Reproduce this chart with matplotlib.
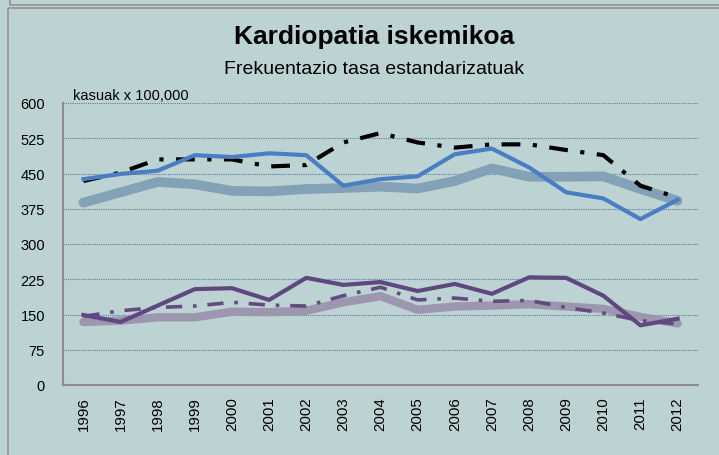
import numpy as np
import matplotlib
matplotlib.use("Agg")
import matplotlib.pyplot as plt
from matplotlib.lines import Line2D

years = ["1996", "1997", "1998", "1999", "2000", "2001", "2002", "2003", "2004",
         "2005", "2006", "2007", "2008", "2009", "2010", "2011", "2012"]

# upper group
blue_solid = [438, 449, 456, 489, 485, 493, 489, 424, 438, 444, 491, 503, 463, 410, 397, 353, 394]
black_dashdot = [434, 452, 480, 480, 480, 465, 468, 516, 536, 516, 505, 512, 512, 500, 489, 424, 399]
grayblue_thick = [388, 410, 432, 427, 413, 412, 417, 419, 422, 418, 434, 461, 443, 443, 444, 417, 392]

# lower group
purple_solid = [149, 134, 169, 204, 206, 181, 228, 213, 219, 200, 215, 194, 229, 228, 190, 127, 141]
purple_dashdot = [146, 158, 165, 168, 176, 170, 168, 190, 208, 181, 185, 178, 180, 165, 153, 137, 130]
lavender_thick = [134, 137, 144, 144, 156, 155, 158, 176, 189, 160, 167, 169, 172, 167, 162, 145, 131]

yticks = [0, 75, 150, 225, 300, 375, 450, 525, 600]

BG = "#BDD3D3"
FONT = ["Liberation Sans", "DejaVu Sans"]

W, H = 719, 456
fig = plt.figure(figsize=(W / 100, H / 100), dpi=100, facecolor=BG)
ax = fig.add_axes([63 / W, 1 - 386 / H, (698 - 63) / W, (386 - 104) / H], facecolor=BG)

x = np.arange(len(years))
dashdot = (0, (4.5, 3, 1, 3))

ax.plot(x, grayblue_thick, color="#84A2B7", lw=7, solid_capstyle="round", zorder=2)
ax.plot(x, black_dashdot, color="black", lw=3, linestyle=dashdot, zorder=3)
ax.plot(x, blue_solid, color="#4A7EC3", lw=3, zorder=4)

ax.plot(x, lavender_thick, color="#9C96AF", lw=6, solid_capstyle="round", zorder=2)
ax.plot(x, purple_dashdot, color="#634B82", lw=2.6, linestyle=dashdot, zorder=3)
ax.plot(x, purple_solid, color="#5F4880", lw=3, zorder=4)

ax.set_xlim(-0.55, len(years) - 0.45)
ax.set_ylim(0, 600)
ax.set_yticks(yticks)
ax.set_yticklabels([str(t) for t in yticks], family=FONT, fontsize=10.5)
ax.set_xticks(x)
ax.set_xticklabels(years, rotation=90, family=FONT, fontsize=10.8)
ax.tick_params(axis="y", length=0, pad=13)
ax.tick_params(axis="x", length=0, pad=8)

ax.grid(axis="y", color="#5A7AA8", linestyle=(0, (1, 1)), lw=0.8, zorder=1)
ax.set_axisbelow(True)
for side in ["top", "right"]:
    ax.spines[side].set_visible(False)
for side in ["left", "bottom"]:
    ax.spines[side].set_color("#8C8C8C")
    ax.spines[side].set_linewidth(1.5)

ax.text(0.015, 1.005, "kasuak x 100,000", transform=ax.transAxes, family=FONT,
        fontsize=10.5, ha="left", va="bottom")

fig.text(374 / W, 1 - 37 / H, "Kardiopatia iskemikoa", family=FONT, fontsize=19,
         fontweight="bold", ha="center", va="center")
fig.text(374 / W, 1 - 69 / H, "Frekuentazio tasa estandarizatuak", family=FONT,
         fontsize=14, ha="center", va="center")

# outer frame lines
def px_line(xs, ys, **kw):
    fig.add_artist(Line2D([v / W for v in xs], [1 - v / H for v in ys],
                          transform=fig.transFigure, color="#8C8C8C", lw=1.1, **kw))

px_line([10, 10, W], [0, 6, 6])
px_line([8, 8, W], [H, 9, 9])

fig.savefig("out.png", dpi=100, facecolor=BG)
